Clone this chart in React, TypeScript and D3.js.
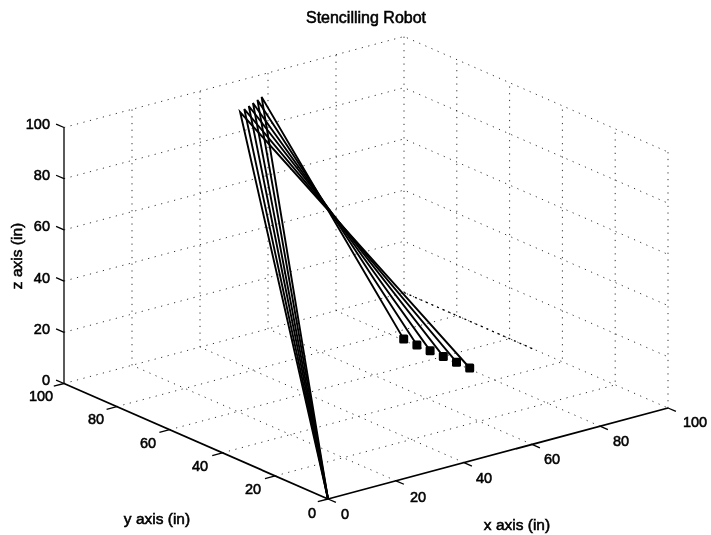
import React from "react";
import * as d3 from "d3";

const width = 711;
const height = 535;

const gridTicks = [20, 40, 60, 80];
const axisTicks = [0, 20, 40, 60, 80, 100];

// end effector positions (in), on the floor
const endX = [80.5, 80.5, 80.5, 80.5, 80.5, 80.5];
const endY = [75, 70, 65, 60, 55, 50];
const endZ = [0, 0, 0, 0, 0, 0];

// elbow positions (in)
const elbowX = [48.8, 46.8, 44.7, 42.7, 40.6, 38.6];
const elbowY = [88, 87, 86, 85, 84, 83];
const elbowZ = [100, 100, 100, 100, 100, 100];

const yTickPos = [
  [312, 513],
  [253, 489],
  [200, 466],
  [148, 443],
  [96, 419],
  [41, 396],
];
const xTickPos = [
  [345, 514],
  [418, 497],
  [484, 478],
  [552, 459],
  [621, 441],
  [695, 422],
];

// orthographic view: each data axis is a pixel offset per inch
const xToPx = d3.scaleLinear().domain([0, 100]).range([0, 340]);
const xToPy = d3.scaleLinear().domain([0, 100]).range([0, -91]);
const yToPx = d3.scaleLinear().domain([0, 100]).range([0, -264]);
const yToPy = d3.scaleLinear().domain([0, 100]).range([0, -115.5]);
const zToPy = d3.scaleLinear().domain([0, 100]).range([0, -256]);

const originX = 328;
const originY = 499;

type P3 = [number, number, number];
const project = ([x, y, z]: P3): [number, number] => [
  originX + xToPx(x) + yToPx(y),
  originY + xToPy(x) + yToPy(y) + zToPy(z),
];
const line3 = (pts: P3[]) => d3.line()(pts.map(project)) as string;

const gridLines: P3[][] = [];
gridTicks.forEach((t) => {
  gridLines.push([[t, 0, 0], [t, 100, 0], [t, 100, 100]]);
  gridLines.push([[0, t, 0], [100, t, 0], [100, t, 100]]);
  gridLines.push([[0, 100, t], [100, 100, t], [100, 0, t]]);
});
gridLines.push([[0, 100, 100], [100, 100, 100], [100, 0, 100]]);
gridLines.push([[100, 100, 0], [100, 100, 100]]);
gridLines.push([[100, 0, 0], [100, 0, 100]]);
gridLines.push([[0, 100, 0], [100, 100, 0], [100, 0, 0]]);

const FONT = "'Liberation Sans', Arial, sans-serif";

export default function App() {
  return (
    <svg
      width={width}
      height={height}
      style={{ position: "absolute", left: 0, top: 0, background: "#fff" }}
    >
      <defs>
        <filter id="scan" x="-5%" y="-5%" width="110%" height="110%">
          <feGaussianBlur stdDeviation="0.35" />
        </filter>
      </defs>
      <g filter="url(#scan)">
        <g fill="none" stroke="#333" strokeWidth={1}>
          {gridLines.map((l, i) => (
            <path key={i} d={line3(l)} strokeDasharray="1.2 5.5" />
          ))}
          {/* the scan kept this stretch of the floor edge darker */}
          <path
            d={line3([[100, 100, 0], [100, 50, 0]])}
            stroke="#000"
            strokeDasharray="2 4"
            strokeWidth={1.3}
          />
        </g>

        <g fill="none" stroke="#000" strokeWidth={1.8}>
          <path d={line3([[0, 0, 0], [100, 0, 0]])} />
          <path d={line3([[0, 0, 0], [0, 100, 0]])} />
          <path d={line3([[0, 100, 0], [0, 100, 100]])} strokeWidth={1.3} />
          {axisTicks.map((t) => (
            <g key={t} strokeWidth={1.3}>
              <path d={line3([[t, 0, 0], [t, -3, 0]])} />
              <path d={line3([[0, t, 0], [-3, t, 0]])} />
              <path d={line3([[0, 100, t], [0, 103, t]])} />
            </g>
          ))}
        </g>

        <g fill="none" stroke="#000" strokeWidth={1.9}>
          {endX.map((_, i) => (
            <path
              key={i}
              d={line3([
                [0, 0, 0],
                [elbowX[i], elbowY[i], elbowZ[i]],
                [endX[i], endY[i], endZ[i]],
              ])}
            />
          ))}
        </g>
        {endX.map((_, i) => {
          const [px, py] = project([endX[i], endY[i], endZ[i]]);
          return <rect key={i} x={px - 4.5} y={py - 4.5} width={9} height={9} rx={1.5} fill="#000" />;
        })}

        <g
          fontFamily={FONT}
          fontSize={14.5}
          fill="#000"
          stroke="#000"
          strokeWidth={0.55}
          textAnchor="middle"
        >
          {axisTicks.map((t) => {
            const [, py] = project([0, 100, t]);
            return (
              <text key={t} x={50} y={py + 1.5} textAnchor="end">
                {t}
              </text>
            );
          })}
          {axisTicks.map((t, i) => (
            <text key={t} x={yTickPos[i][0]} y={yTickPos[i][1] + 5}>
              {t}
            </text>
          ))}
          {axisTicks.map((t, i) => (
            <text key={t} x={xTickPos[i][0]} y={xTickPos[i][1] + 5}>
              {t}
            </text>
          ))}
          <g fontSize={15.5}>
            <text x={517} y={530}>x axis (in)</text>
            <text x={157} y={524}>y axis (in)</text>
            <text transform="translate(22,256) rotate(-90)">z axis (in)</text>
          </g>
        </g>
        <text
          x={366}
          y={23}
          fontFamily={FONT}
          fontSize={16}
          fill="#000"
          stroke="#000"
          strokeWidth={0.55}
          textAnchor="middle"
        >
          Stencilling Robot
        </text>
      </g>
    </svg>
  );
}
